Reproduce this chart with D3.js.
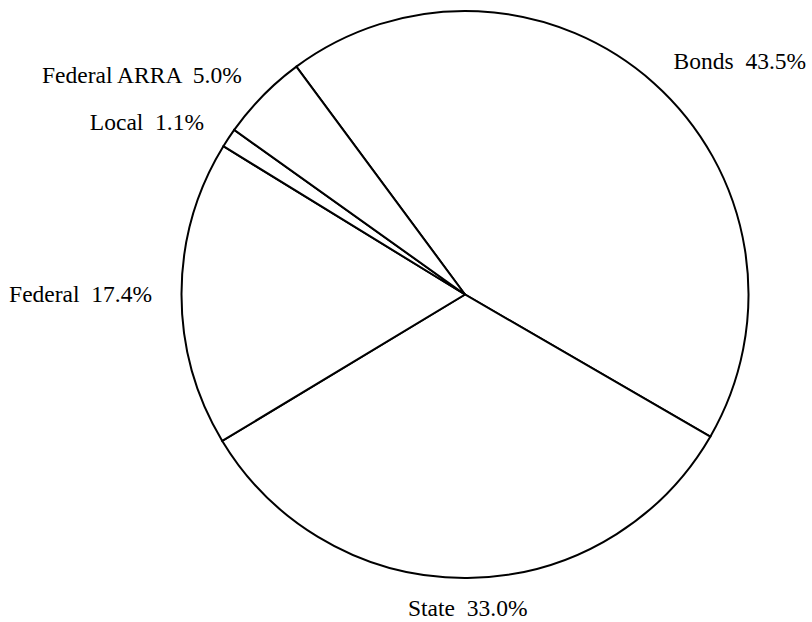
<!DOCTYPE html>
<html>
<head>
<meta charset="utf-8">
<script src="https://cdn.jsdelivr.net/npm/d3@7"></script>
<style>
  html, body { margin: 0; padding: 0; background: #fff; }
  svg { display: block; }
  text { font-family: "Liberation Serif", "Times New Roman", serif; font-size: 23.5px; fill: #000; white-space: pre; }
</style>
</head>
<body>
<svg id="chart" width="812" height="622"></svg>
<script>
const categories = ["Bonds", "State", "Federal", "Local", "Federal ARRA"];
const values = [43.5, 33.0, 17.4, 1.1, 5.0];
const valueLabels = ["43.5%", "33.0%", "17.4%", "1.1%", "5.0%"];

const svg = d3.select("#chart");
const cx = 465, cy = 294.5, r = 283.5, labelR = 313;
const start = -36.5 * Math.PI / 180;

const data = categories.map((c, i) => ({ name: c, value: values[i], label: valueLabels[i] }));

const pie = d3.pie().value(d => d.value).sort(null)
  .startAngle(start).endAngle(start + 2 * Math.PI);
const arcs = pie(data);
const arc = d3.arc().innerRadius(0).outerRadius(r);

const g = svg.append("g").attr("transform", `translate(${cx},${cy})`);

g.selectAll("path.slice").data(arcs).enter().append("path")
  .attr("class", "slice")
  .attr("d", arc)
  .attr("fill", "#fff")
  .attr("stroke", "#000")
  .attr("stroke-width", 2)
  .attr("stroke-linejoin", "miter");

g.selectAll("text.lbl").data(arcs).enter().append("text")
  .attr("class", "lbl")
  .each(function(d) {
    const a = (d.startAngle + d.endAngle) / 2;
    const s = Math.sin(a), c = Math.cos(a);
    const x = s * labelR, y = -c * labelR;
    const anchor = Math.abs(s) < 0.1 ? "middle" : (s > 0 ? "start" : "end");
    d3.select(this)
      .attr("x", x)
      .attr("y", y)
      .attr("dy", "0.35em")
      .attr("text-anchor", anchor)
      .text(d.data.name + "  " + d.data.label);
  });
</script>
</body>
</html>
